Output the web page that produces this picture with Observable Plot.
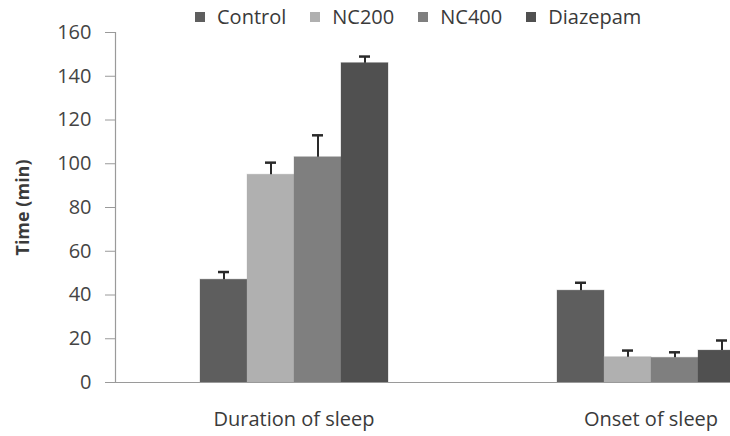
<!DOCTYPE html>
<html>
<head>
<meta charset="utf-8">
<script src="https://cdn.jsdelivr.net/npm/d3@7"></script>
<script src="https://cdn.jsdelivr.net/npm/@observablehq/plot@0.6"></script>
<style>
  html, body { margin: 0; padding: 0; background: #fff; }
  #wrap { position: relative; width: 730px; height: 436px; overflow: hidden; font-family: "Open Sans", sans-serif; }
  #legend { position: absolute; top: 3px; left: 195px; display: flex; align-items: center; font-size: 20px; color: #3a3a3a; z-index: 2; }
  #legend .item { display: flex; align-items: center; margin-right: 24px; }
  #legend .sw { width: 10px; height: 10px; margin-right: 12px; }
  #chart { position: absolute; top: 0; left: 0; width: 829px; }
  #chart svg { max-width: none !important; width: 829px; height: 436px; }
</style>
</head>
<body>
<div id="wrap">
  <div id="legend"></div>
  <div id="chart"></div>
</div>
<script>
// Data
const groups = ["Duration of sleep", "Onset of sleep"];
const series = ["Control", "NC200", "NC400", "Diazepam"];
const durationValues = [47, 95, 103, 146];
const durationErrors = [3.5, 5.5, 10, 3];
const onsetValues = [42, 11.6, 11.3, 14.6];
const onsetErrors = [3.6, 3, 2.5, 4.6];
const colors = ["#5e5e5e", "#b0b0b0", "#7f7f7f", "#505050"];
const yTicks = [0, 20, 40, 60, 80, 100, 120, 140, 160];
const yLabel = "Time (min)";

const rows = [];
series.forEach((s, i) => {
  rows.push({group: groups[0], series: s, value: durationValues[i], err: durationErrors[i]});
  rows.push({group: groups[1], series: s, value: onsetValues[i], err: onsetErrors[i]});
});

// Legend (HTML, overlaid at the top)
const legend = document.getElementById("legend");
series.forEach((s, i) => {
  const item = document.createElement("div");
  item.className = "item";
  const sw = document.createElement("span");
  sw.className = "sw";
  sw.style.background = colors[i];
  const t = document.createElement("span");
  t.textContent = s;
  item.appendChild(sw);
  item.appendChild(t);
  legend.appendChild(item);
});

const plot = Plot.plot({
  width: 829,
  height: 436,
  marginTop: 32,
  marginBottom: 54,
  marginLeft: 115,
  marginRight: 0,
  style: {fontFamily: "Open Sans, sans-serif", fontSize: "20px", color: "#444", background: "transparent", overflow: "visible", maxWidth: "none"},
  fx: {domain: groups, padding: 0, label: null},
  x: {domain: series, paddingInner: 0, paddingOuter: 1.758, axis: null},
  y: {domain: [0, 160]},
  color: {domain: series, range: colors},
  marks: [
    Plot.barY(rows, {fx: "group", x: "series", y: "value", fill: "series", stroke: "series", strokeOpacity: 0.3}),
    Plot.ruleX(rows, {fx: "group", x: "series", y1: "value", y2: d => d.value + d.err, stroke: "#2a2a2a", strokeWidth: 2}),
    Plot.tickY(rows, {fx: "group", x: "series", y: d => d.value + d.err, inset: 18, stroke: "#2a2a2a", strokeWidth: 2.5}),
    Plot.ruleY([0], {stroke: "#9a9a9a", strokeWidth: 1.2}),
    Plot.frame({anchor: "left", stroke: "#9a9a9a", strokeWidth: 1.2, facetAnchor: "left"}),
    Plot.axisY({ticks: yTicks, tickSize: 10, tickPadding: 14, stroke: "#9a9a9a", fill: "#444", fontSize: 20,
      label: null}),
    Plot.axisY({ticks: [], tickSize: 0, label: yLabel, labelAnchor: "center", labelOffset: 99, labelArrow: "none",
      fontSize: 18, fontWeight: "bold", fill: "#3a3a3a"}),
    Plot.axisFx({anchor: "bottom", tickSize: 0, tickPadding: 29, fontSize: 20, fill: "#3a3a3a", label: null})
  ]
});
document.getElementById("chart").appendChild(plot);
</script>
</body>
</html>
